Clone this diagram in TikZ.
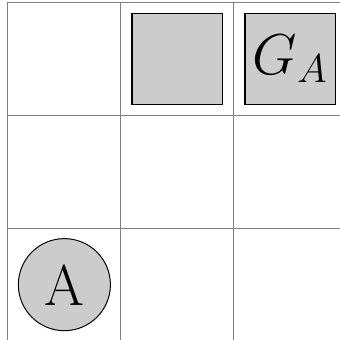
\RequirePackage{fix-cm}
\documentclass[tikz,border=0pt]{standalone}
\begin{document}
\begin{tikzpicture}[
    cell/.style = {
        draw = gray,
        line width = 0.5pt
    },
    block/.style = {
        rectangle,
        minimum width = 1.61cm,
        minimum height = 1.61cm,
        inner sep = 0pt,
        draw = black,
        line width = 0.7pt,
        fill = black!20,
        font = \fontsize{29}{31}\selectfont
    },
    agent/.style = {
        circle,
        minimum size = 1.63cm,
        inner sep = 0pt,
        draw = black,
        line width = 0.5pt,
        fill = black!20,
        font = \fontsize{29}{31}\selectfont
    }
]

    \useasboundingbox (-0.14,0.02) rectangle (5.88,6.04);

    % Grid
    \draw [cell] (0,0) grid [step=2] (6.5,6);

    % Walls and goal (top row)
    \node [block] (wall) at (3,5) {};
    \node [block] (goal) at (5,5) {$G_A$};

    % Agent (bottom row)
    \node [agent] (agentA) at (1,1) {A};

\end{tikzpicture}
\end{document}
